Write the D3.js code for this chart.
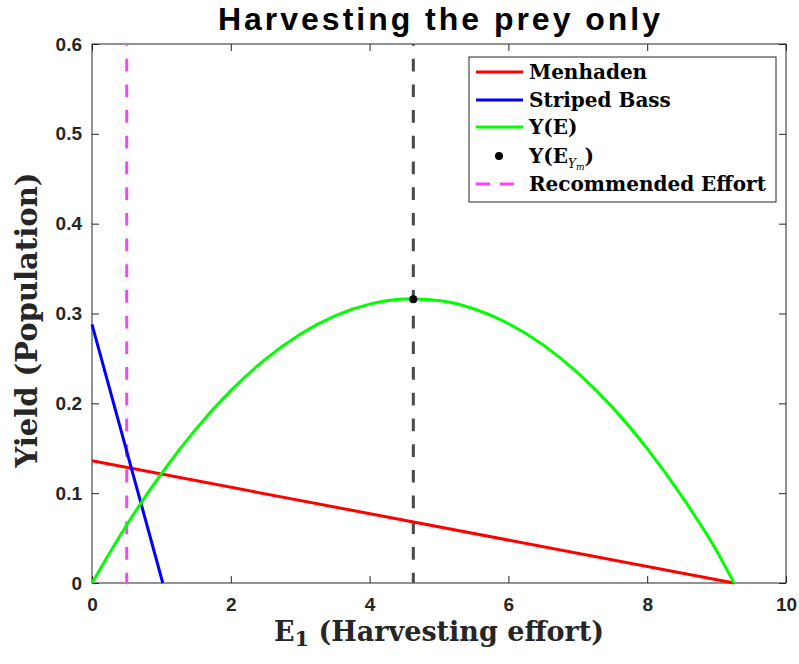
<!DOCTYPE html>
<html><head><meta charset="utf-8">
<script src="https://cdn.jsdelivr.net/npm/d3@7"></script>
<style>body{margin:0;background:#fff}</style>
</head><body>
<svg id="chart" width="799" height="664"></svg>
<script>
const xTicks = [0, 2, 4, 6, 8, 10];
const yTicks = [0, 0.1, 0.2, 0.3, 0.4, 0.5, 0.6];
const yTickLabels = ["0", "0.1", "0.2", "0.3", "0.4", "0.5", "0.6"];
const menhadenE = [0, 9.25];
const menhadenY = [0.136, 0];
const bassE = [0, 1.02];
const bassY = [0.288, 0];
const yieldE = [0, 0.5, 1, 1.5, 2, 2.5, 3, 3.5, 4, 4.5, 4.63, 5, 5.5, 6, 6.5, 7, 7.5, 8, 8.5, 9, 9.25];
const yieldY = [0, 0.0646, 0.1218, 0.1716, 0.2141, 0.2492, 0.2770, 0.2974, 0.3104, 0.3161, 0.3162, 0.3144, 0.3053, 0.2889, 0.2651, 0.2340, 0.1955, 0.1496, 0.0964, 0.0358, 0];
const maxE = 4.63, maxY = 0.316;
const recE = 0.5;
const legendLabels = ["Menhaden", "Striped Bass", "Y(E)", "Y(E_Ym)", "Recommended Effort"];

const svg = d3.select("#chart");
const L = 92, R = 786, T = 44, B = 583;
const x = d3.scaleLinear().domain([0, 10]).range([L, R]);
const y = d3.scaleLinear().domain([0, 0.6]).range([B, T]);
const axCol = "#262626";

svg.append("rect").attr("x", L).attr("y", T).attr("width", R - L).attr("height", B - T)
  .attr("fill", "none").attr("stroke", axCol).attr("stroke-width", 1);

const tickFont = "Liberation Sans, Arial, sans-serif";
const xAx = svg.append("g").attr("transform", `translate(0,${B})`)
  .call(d3.axisBottom(x).tickValues(xTicks).tickSize(-7).tickPadding(15).tickFormat(d3.format("d")));
const xAxT = svg.append("g").attr("transform", `translate(0,${T})`)
  .call(d3.axisTop(x).tickValues(xTicks).tickSize(-7).tickFormat(""));
const yAx = svg.append("g").attr("transform", `translate(${L},0)`)
  .call(d3.axisLeft(y).tickValues(yTicks).tickSize(-7).tickPadding(10).tickFormat((d, i) => yTickLabels[i]));
const yAxR = svg.append("g").attr("transform", `translate(${R},0)`)
  .call(d3.axisRight(y).tickValues(yTicks).tickSize(-7).tickFormat(""));
[xAx, xAxT, yAx, yAxR].forEach(g => {
  g.select(".domain").remove();
  g.selectAll("line").attr("stroke", axCol);
  g.selectAll("text").attr("fill", axCol).style("font-family", tickFont)
    .style("font-weight", "bold").style("font-size", "19px");
});

const line = d3.line().x(d => x(d[0])).y(d => y(d[1]));
const plot = svg.append("g");
plot.append("line").attr("x1", x(recE)).attr("x2", x(recE)).attr("y1", y(0.6)).attr("y2", y(0))
  .attr("stroke", "#ff40ff").attr("stroke-width", 3).attr("stroke-dasharray", "12.7,13").attr("stroke-dashoffset", 11);
plot.append("line").attr("x1", x(maxE)).attr("x2", x(maxE)).attr("y1", y(0.6)).attr("y2", y(0))
  .attr("stroke", "#4a4a4a").attr("stroke-width", 3).attr("stroke-dasharray", "12.7,13").attr("stroke-dashoffset", 11);
plot.append("path").attr("d", line(menhadenE.map((e, i) => [e, menhadenY[i]])))
  .attr("fill", "none").attr("stroke", "#ff0000").attr("stroke-width", 3);
plot.append("path").attr("d", line(bassE.map((e, i) => [e, bassY[i]])))
  .attr("fill", "none").attr("stroke", "#0000ff").attr("stroke-width", 3);
plot.append("path").attr("d", line.curve(d3.curveMonotoneX)(yieldE.map((e, i) => [e, yieldY[i]])))
  .attr("fill", "none").attr("stroke", "#00ff00").attr("stroke-width", 3);
plot.append("circle").attr("cx", x(maxE)).attr("cy", y(maxY)).attr("r", 4).attr("fill", "#000");

svg.append("text").attr("x", (L + R) / 2).attr("y", 30).attr("text-anchor", "middle")
  .attr("textLength", 442).attr("lengthAdjust", "spacing")
  .style("font-family", tickFont).style("font-weight", "bold").style("font-size", "32px")
  .attr("fill", "#000").text("Harvesting the prey only");

const serif = "DejaVu Serif, serif";
const xl = svg.append("text").attr("x", (L + R) / 2).attr("y", 641).attr("text-anchor", "middle")
  .style("font-family", serif).style("font-weight", "bold").style("font-size", "27px").attr("fill", axCol);
xl.append("tspan").text("E");
xl.append("tspan").attr("dy", 5).style("font-size", "21px").text("1");
xl.append("tspan").attr("dy", -5).text(" (Harvesting effort)");
svg.append("text").attr("transform", `translate(37,${320}) rotate(-90)`).attr("text-anchor", "middle")
  .style("font-family", serif).style("font-weight", "bold").style("font-size", "29px").attr("fill", axCol)
  .text("Yield (Population)");

const lg = svg.append("g");
lg.append("rect").attr("x", 469).attr("y", 57).attr("width", 307).attr("height", 145)
  .attr("fill", "#fff").attr("stroke", axCol).attr("stroke-width", 1);
const rows = [72, 100, 127, 156, 184];
const legendStyles = [
  {type: "line", color: "#ff0000"},
  {type: "line", color: "#0000ff"},
  {type: "line", color: "#00ff00"},
  {type: "dot", color: "#000"},
  {type: "dash", color: "#ff40ff"}
];
legendStyles.forEach((s, i) => {
  const yy = rows[i];
  if (s.type === "line") {
    lg.append("line").attr("x1", 476).attr("x2", 523).attr("y1", yy).attr("y2", yy)
      .attr("stroke", s.color).attr("stroke-width", 3);
  } else if (s.type === "dash") {
    lg.append("line").attr("x1", 476).attr("x2", 514).attr("y1", yy).attr("y2", yy)
      .attr("stroke", s.color).attr("stroke-width", 3).attr("stroke-dasharray", "14,10");
  } else {
    lg.append("circle").attr("cx", 499).attr("cy", yy).attr("r", 4).attr("fill", s.color);
  }
  const t = lg.append("text").attr("x", 529).attr("y", yy + 7)
    .style("font-family", serif).style("font-weight", "bold").style("font-size", "20px").attr("fill", "#000");
  if (i === 3) {
    t.append("tspan").text("Y(E");
    t.append("tspan").attr("dy", 5).style("font-size", "12px").style("font-style", "italic").style("font-weight", "normal").text("Y");
    t.append("tspan").attr("dy", 2).style("font-size", "9px").style("font-style", "italic").style("font-weight", "normal").text("m");
    t.append("tspan").attr("dy", -7).text(")");
  } else {
    t.text(legendLabels[i]);
  }
});
</script>
</body></html>
